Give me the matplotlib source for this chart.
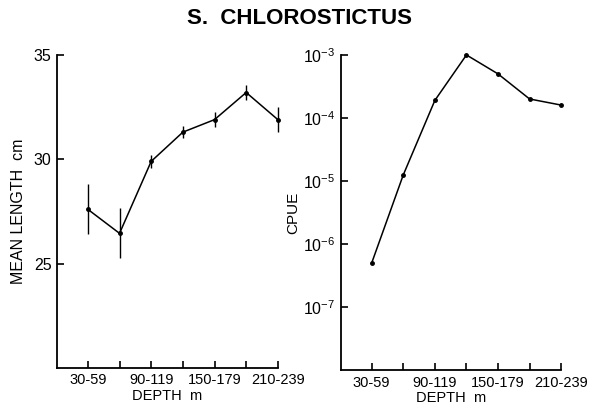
import numpy as np
import matplotlib.pyplot as plt
from matplotlib.ticker import FixedLocator, FuncFormatter

plt.rcParams['font.family'] = ['Liberation Sans', 'DejaVu Sans']
plt.rcParams['mathtext.default'] = 'regular'

# depth classes (m), only every other one is labelled
depth_classes = ['30-59', '60-89', '90-119', '120-149', '150-179', '180-209', '210-239']
depth_labels = ['30-59', '', '90-119', '', '150-179', '', '210-239']

# mean length (cm) with error bar half-widths
mean_length = [27.6, 26.45, 29.9, 31.3, 31.9, 33.2, 31.9]
length_err = [1.2, 1.2, 0.3, 0.3, 0.35, 0.35, 0.6]

# catch per unit effort
cpue = [5e-7, 1.25e-5, 1.9e-4, 1e-3, 5e-4, 2e-4, 1.6e-4]


def style_axes(ax):
    for side in ['top', 'right']:
        ax.spines[side].set_visible(False)
    for side in ['left', 'bottom']:
        ax.spines[side].set_linewidth(1.3)
    ax.tick_params(axis='both', direction='in', length=5, width=1.2, pad=4)
    ax.tick_params(axis='x', labelsize=10.5)
    ax.tick_params(axis='y', labelsize=11.5)
    ax.set_xticks(range(len(depth_classes)))
    ax.set_xticklabels(depth_labels)
    ax.set_xlim(-0.97, len(depth_classes) - 1)
    ax.set_xlabel('DEPTH  m', fontsize=10.5, labelpad=1)


fig = plt.figure(figsize=(6.08, 4.07), dpi=100)
x = np.arange(len(depth_classes))

# mean length panel
ax1 = fig.add_axes([0.094, 0.096, 0.363, 0.769])
ax1.errorbar(x, mean_length, yerr=length_err, color='black', lw=1.1,
             elinewidth=1.0, capsize=0, marker='o', ms=2.5, clip_on=False)
ax1.set_ylim(20, 35)
ax1.set_yticks([25, 30, 35])
ax1.set_ylabel('MEAN LENGTH  cm', fontsize=11.5, labelpad=6)
style_axes(ax1)

# CPUE panel, log scale
ax2 = fig.add_axes([0.561, 0.091, 0.362, 0.774])
ax2.plot(x, cpue, color='black', lw=1.1, marker='o', ms=2.5, clip_on=False)
ax2.set_yscale('log')
ax2.set_ylim(1e-8, 1e-3)
ax2.yaxis.set_major_locator(FixedLocator([1e-7, 1e-6, 1e-5, 1e-4, 1e-3]))
ax2.yaxis.set_minor_locator(FixedLocator([]))
ax2.yaxis.set_major_formatter(
    FuncFormatter(lambda v, pos: r'$10^{%d}$' % round(np.log10(v))))
ax2.set_ylabel('CPUE', fontsize=11, labelpad=2)
style_axes(ax2)

fig.text(0.492, 0.955, 'S.  CHLOROSTICTUS', ha='center', va='center',
         fontsize=16, fontweight='bold')

fig.savefig('out.png', dpi=100)
